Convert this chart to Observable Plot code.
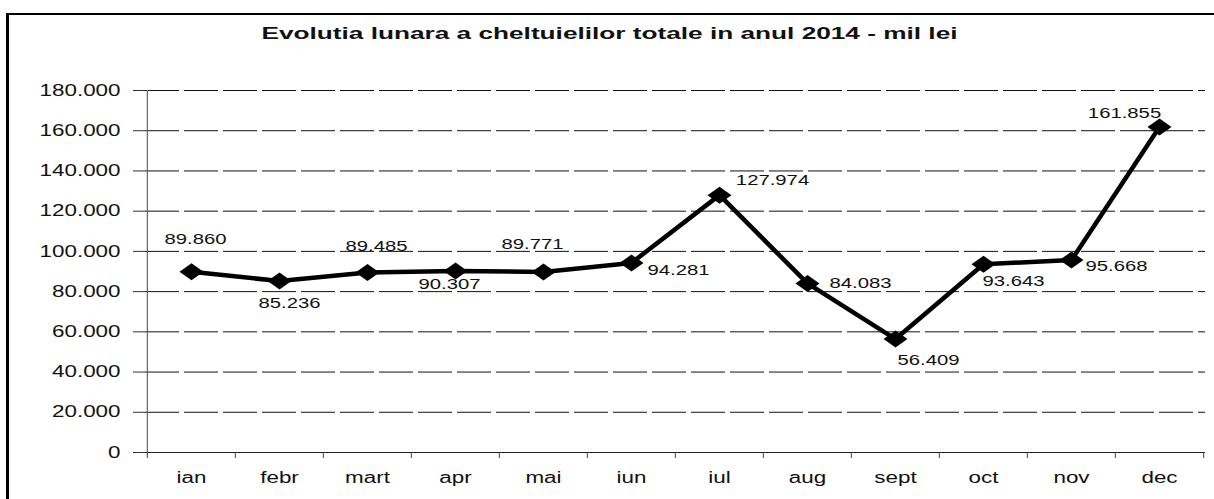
<!DOCTYPE html>
<html><head><meta charset="utf-8">
<script src="https://cdn.jsdelivr.net/npm/d3@7"></script>
<script src="https://cdn.jsdelivr.net/npm/@observablehq/plot@0.6"></script>
<style>
html,body{margin:0;padding:0;background:#fff;}
#wrap{position:relative;width:1214px;height:499px;overflow:hidden;font-family:"Liberation Sans",Arial,sans-serif;}
#frame{position:absolute;left:6px;top:13px;width:1210px;height:500px;border-left:3px solid #000;border-top:2px solid #000;box-sizing:border-box;}
#title{position:absolute;left:0;width:1220px;top:25px;text-align:center;}
#title span{display:inline-block;font-weight:bold;font-size:16px;color:#111;transform-origin:center;}
#chart{position:absolute;left:0;top:0;}
</style></head>
<body><div id="wrap"><div id="frame"></div><div id="title"><span>Evolutia lunara a cheltuielilor totale in anul 2014 - mil lei</span></div><div id="chart"></div></div>
<script>
const months = ["ian","febr","mart","apr","mai","iun","iul","aug","sept","oct","nov","dec"];
const values = [89860, 85236, 89485, 90307, 89771, 94281, 127974, 84083, 56409, 93643, 95668, 161855];
const yTicks = [0,20000,40000,60000,80000,100000,120000,140000,160000,180000];

// label placement (pixel offsets from each marker), kept apart from the data
const labelOffsets = [[4,-32],[10,22],[9,-26],[-6,14],[-11,-27],[47,8],[53,-15],[53,0],[33,21],[30,17],[45,6],[-35,-13]];

const data = months.map((m,i)=>({month:m, value:values[i], dx:labelOffsets[i][0], dy:labelOffsets[i][1]}));
const fmt = v => v === 0 ? "0" : d3.format(",.0f")(v).replace(/,/g,".");
const W = 1214, H = 499, mL = 145, mR = 9, mT = 90, mB = 47;
const step = (W - mL - mR) / months.length;

// wide diamond marker like the scanned Excel marker
const wideDiamond = {draw(ctx){ const a = 12, b = 8.5; ctx.moveTo(0,-b); ctx.lineTo(a,0); ctx.lineTo(0,b); ctx.lineTo(-a,0); ctx.closePath(); }};

const plot = Plot.plot({
  width: W, height: H,
  marginLeft: mL, marginRight: mR, marginTop: mT, marginBottom: mB,
  style: {background:"transparent", fontFamily:"Liberation Sans, Arial, sans-serif"},
  x: {type:"point", domain: months, padding: 0.5, label: null},
  y: {type:"linear", domain:[0,180000], label:null},
  marks: [
    Plot.ruleY(yTicks, {stroke:"#111", strokeWidth:1, strokeDasharray:"34,5"}),
    Plot.ruleX([months[0]], {dx: -step/2, y1: 0, y2: 180000, stroke:"#666", strokeWidth:1.2}),
    Plot.ruleY([0], {stroke:"#222", strokeWidth:1.2}),
    Plot.ruleX(months, {dx: -step/2, y1: 0, y2: 0, insetTop: 6, stroke:"#444", strokeWidth:1}),
    Plot.ruleX([months[months.length-1]], {dx: step/2, y1: 0, y2: 0, insetTop: 6, stroke:"#444", strokeWidth:1}),
    Plot.axisY({ticks: yTicks, tickFormat: fmt, tickSize: 12, tickPadding: 13, fontSize: 16, stroke:"#333", fill:"#111"}),
    Plot.axisX({tickSize: 0, tickPadding: 19, fontSize: 16, fill:"#111"}),
    Plot.line(data, {x:"month", y:"value", stroke:"#000", strokeWidth:4.5, strokeLinejoin:"miter"}),
    Plot.dot(data, {x:"month", y:"value", symbol: wideDiamond, fill:"#000", stroke:"none"}),
    ...data.map(d => Plot.text([d], {
      x:"month", y:"value", text: d => fmt(d.value), dx: d.dx, dy: d.dy,
      fontSize: 14, fill:"#111", ariaLabel: "data-label"
    }))
  ]
});
document.getElementById("chart").appendChild(plot);

// horizontal stretch of text glyphs, as in the scanned original
function stretch(sel, s){
  plot.querySelectorAll(sel).forEach(t => {
    const tr = t.getAttribute("transform") || "";
    t.setAttribute("transform", tr + ` scale(${s},1)`);
  });
}
stretch('g[aria-label="y-axis tick label"] text', 1.4);
stretch('g[aria-label="x-axis tick label"] text', 1.4);
stretch('g[aria-label="text"] text', 1.45);

const span = document.querySelector("#title span");
const tw = span.getBoundingClientRect().width;
span.style.transform = `scaleX(${696/tw})`;
</script></body></html>
